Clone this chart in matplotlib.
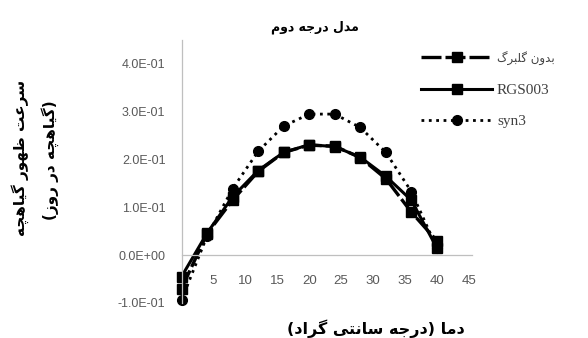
import matplotlib
matplotlib.use('Agg')
import matplotlib.pyplot as plt
from matplotlib.ticker import FuncFormatter

# Persian letters -> presentation forms (isolated, final, initial, medial)
FORMS = {
    'ا': ('\uFE8D', '\uFE8E', None, None),
    'ب': ('\uFE8F', '\uFE90', '\uFE91', '\uFE92'),
    'ت': ('\uFE95', '\uFE96', '\uFE97', '\uFE98'),
    'ج': ('\uFE9D', '\uFE9E', '\uFE9F', '\uFEA0'),
    'چ': ('\uFB7A', '\uFB7B', '\uFB7C', '\uFB7D'),
    'د': ('\uFEA9', '\uFEAA', None, None),
    'ر': ('\uFEAD', '\uFEAE', None, None),
    'ز': ('\uFEAF', '\uFEB0', None, None),
    'س': ('\uFEB1', '\uFEB2', '\uFEB3', '\uFEB4'),
    'ظ': ('\uFEC5', '\uFEC6', '\uFEC7', '\uFEC8'),
    'ع': ('\uFEC9', '\uFECA', '\uFECB', '\uFECC'),
    'گ': ('\uFB92', '\uFB93', '\uFB94', '\uFB95'),
    'ل': ('\uFEDD', '\uFEDE', '\uFEDF', '\uFEE0'),
    'م': ('\uFEE1', '\uFEE2', '\uFEE3', '\uFEE4'),
    'ن': ('\uFEE5', '\uFEE6', '\uFEE7', '\uFEE8'),
    'ه': ('\uFEE9', '\uFEEA', '\uFEEB', '\uFEEC'),
    'و': ('\uFEED', '\uFEEE', None, None),
    'ی': ('\uFBFC', '\uFBFD', '\uFBFE', '\uFBFF'),
}


def fa(s):
    out = []
    for i, c in enumerate(s):
        if c not in FORMS:
            out.append({'(': ')', ')': '('}.get(c, c))
            continue
        prev = s[i-1] if i > 0 else ''
        nxt = s[i+1] if i+1 < len(s) else ''
        jp = prev in FORMS and FORMS[prev][2] is not None
        jn = FORMS[c][2] is not None and nxt in FORMS
        if jp and jn:
            out.append(FORMS[c][3])
        elif jp:
            out.append(FORMS[c][1])
        elif jn:
            out.append(FORMS[c][2])
        else:
            out.append(FORMS[c][0])
    return ''.join(out[::-1])


# Gegevens
temp = [0, 4, 8, 12, 16, 20, 24, 28, 32, 36, 40]
control = [-0.07, 0.045, 0.115, 0.175, 0.215, 0.23, 0.228, 0.204, 0.16, 0.09, 0.03]
rgs003 = [-0.045, 0.046, 0.122, 0.177, 0.215, 0.231, 0.227, 0.205, 0.165, 0.115, 0.015]
syn3 = [-0.094, 0.04, 0.139, 0.217, 0.27, 0.295, 0.295, 0.267, 0.215, 0.133, 0.015]

labels = ['بدون گلبرگ', 'RGS003', 'syn3']
title = 'مدل درجه دوم'
ylab1 = 'سرعت ظهور گیاهچه'
ylab2 = '(گیاهچه در روز)'
xlab = 'دما (درجه سانتی گراد)'

xticks = [5, 10, 15, 20, 25, 30, 35, 40, 45]
yticks = [-0.1, 0.0, 0.1, 0.2, 0.3, 0.4]

fig = plt.figure(figsize=(5.88, 3.38), dpi=100)
ax = fig.add_axes([0.3087, 0.1036, 0.4940, 0.7781])

l1, = ax.plot(temp, control, color='black', lw=2.4, dashes=[6, 1.2],
              marker='s', ms=7.5, label=fa(labels[0]), clip_on=False)
l2, = ax.plot(temp, rgs003, color='black', lw=2.2,
              marker='s', ms=7.5, label=labels[1], clip_on=False)
l3, = ax.plot(temp, syn3, color='black', lw=2.0, ls=':',
              marker='o', ms=7, label=labels[2], clip_on=False)

ax.set_xlim(0, 45.5)
ax.set_ylim(-0.1, 0.45)
ax.set_xticks(xticks)
ax.set_yticks(yticks)
ax.yaxis.set_major_formatter(FuncFormatter(lambda v, p: '{:.1E}'.format(v)))

for s in ['top', 'right']:
    ax.spines[s].set_visible(False)
ax.spines['bottom'].set_position(('data', 0))
for s in ['left', 'bottom']:
    ax.spines[s].set_color('#bfbfbf')
    ax.spines[s].set_linewidth(0.9)

ax.tick_params(axis='x', length=0, pad=14.5, labelsize=9.5, labelcolor='#595959')
ax.tick_params(axis='y', length=0, pad=11.5, labelsize=9, labelcolor='#595959')
for t in ax.get_xticklabels() + ax.get_yticklabels():
    t.set_fontfamily('Liberation Sans')

leg = ax.legend(loc='upper left', bbox_to_anchor=(413/588, 1 - 44/338),
                bbox_transform=fig.transFigure, frameon=False,
                handlelength=4.7, handletextpad=0.3, labelspacing=1.15,
                borderpad=0, prop={'family': 'Liberation Serif', 'size': 11})
for t in leg.get_texts():
    t.set_color('#404040')
leg.get_texts()[0].set_fontfamily('DejaVu Sans')
leg.get_texts()[0].set_fontsize(8.5)

fig.text(315/588, 1 - 27/338, fa(title), ha='center', va='center',
         fontsize=9, fontweight='bold', family='DejaVu Sans')
fig.text(20/588, 1 - 158/338, fa(ylab1), ha='center', va='center', rotation=90,
         fontsize=11, fontweight='bold', family='DejaVu Sans')
fig.text(50/588, 1 - 160/338, fa(ylab2), ha='center', va='center', rotation=90,
         fontsize=11, fontweight='bold', family='DejaVu Sans')
fig.text(376/588, 1 - 329/338, fa(xlab), ha='center', va='center',
         fontsize=11.5, fontweight='bold', family='DejaVu Sans')

plt.savefig('out.png', dpi=100)
